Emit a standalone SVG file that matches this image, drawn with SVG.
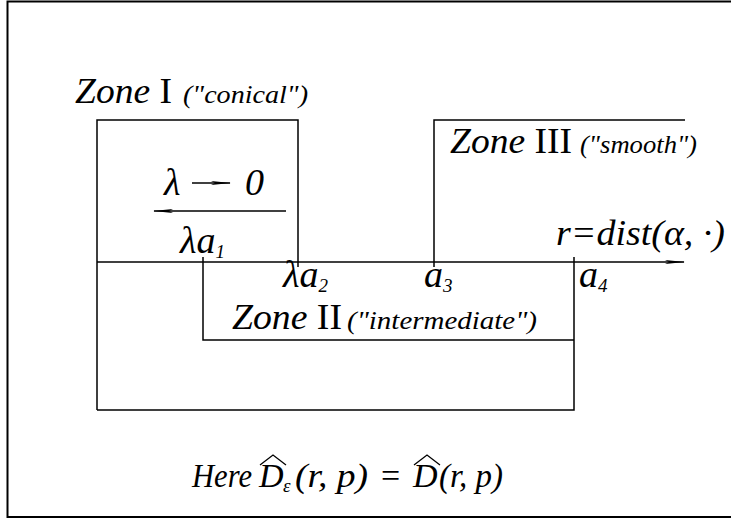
<svg xmlns="http://www.w3.org/2000/svg" width="731" height="520" viewBox="0 0 731 520">
<style>
  .ln{stroke:#000;stroke-width:1.5;fill:none}
  .hat{stroke:#000;stroke-width:1.3;fill:none}
  text{font-family:'Liberation Serif',Tinos,'Times New Roman',Times,serif;fill:#000}
  .it{font-style:italic}
  .big{font-size:36px}
  .frm{font-size:34px}
  .lab{font-size:38px}
  .sm{font-size:25px}
  .sub{font-size:19px}
</style>
<defs>
  <marker id="dart" viewBox="0 0 20 6" refX="19" refY="3" markerWidth="20" markerHeight="6" markerUnits="userSpaceOnUse" orient="auto">
    <path d="M0,1 L20,3 L0,5 L4,3 Z" fill="#000"/>
  </marker>
</defs>
<rect x="7.5" y="1.5" width="740" height="515.5" fill="#fff" stroke="#000" stroke-width="2"/>

<g id="connectors">
  <line class="ln" x1="97" y1="262" x2="684" y2="262" marker-end="url(#dart)"/>
  <polyline class="ln" points="97,410 97,120 298,120 298,267"/>
  <polyline class="ln" points="434,267 434,120 685,120"/>
  <polyline class="ln" points="203,257 203,340 574,340"/>
  <polyline class="ln" points="97,410 574,410 574,257"/>
  <line class="ln" x1="192" y1="183" x2="230" y2="183" marker-end="url(#dart)"/>
  <line class="ln" x1="286" y1="211" x2="154" y2="211" marker-end="url(#dart)"/>
</g>

<g id="zone1">
  <text class="big" x="75" y="103" textLength="97" lengthAdjust="spacingAndGlyphs"><tspan class="it">Zone</tspan> I</text>
  <text class="sm it" x="183" y="103" textLength="125" lengthAdjust="spacingAndGlyphs">("conical")</text>
</g>
<g id="zone3">
  <text class="big" x="450" y="153" textLength="122" lengthAdjust="spacingAndGlyphs"><tspan class="it">Zone</tspan> III</text>
  <text class="sm it" x="580" y="153" textLength="117" lengthAdjust="spacingAndGlyphs">("smooth")</text>
</g>
<g id="zone2">
  <text class="big" x="232" y="329" textLength="110" lengthAdjust="spacingAndGlyphs"><tspan class="it">Zone</tspan> II</text>
  <text class="sm it" x="347" y="329" textLength="190" lengthAdjust="spacingAndGlyphs">("intermediate")</text>
</g>
<g id="lambda">
  <text class="lab it" x="164" y="195">λ</text>
  <text class="lab it" x="245" y="195">0</text>
</g>
<g id="labels">
  <text class="lab it" x="180" y="253">λa<tspan class="sub" dy="5">1</tspan></text>
  <text class="lab it" x="283" y="287">λa<tspan class="sub" dy="5">2</tspan></text>
  <text class="lab it" x="424" y="287">a<tspan class="sub" dy="5">3</tspan></text>
  <text class="lab it" x="579" y="287">a<tspan class="sub" dy="5">4</tspan></text>
  <text class="big it" x="556" y="245" textLength="169" lengthAdjust="spacingAndGlyphs">r=dist(α, ·)</text>
</g>
<g id="formula">
  <text class="frm it" x="192" y="487"><tspan textLength="60" lengthAdjust="spacingAndGlyphs">Here</tspan> <tspan x="259">D</tspan><tspan class="sub" x="283" dy="5">ε</tspan><tspan x="295" dy="-5" textLength="73" lengthAdjust="spacingAndGlyphs">(r, p)</tspan><tspan x="381" font-style="normal">=</tspan><tspan x="413">D</tspan><tspan x="439" textLength="64" lengthAdjust="spacingAndGlyphs">(r, p)</tspan></text>
  <polyline class="hat" points="260,465 273,455 286,465"/>
  <polyline class="hat" points="414,465 427,455 440,465"/>
</g>
</svg>
